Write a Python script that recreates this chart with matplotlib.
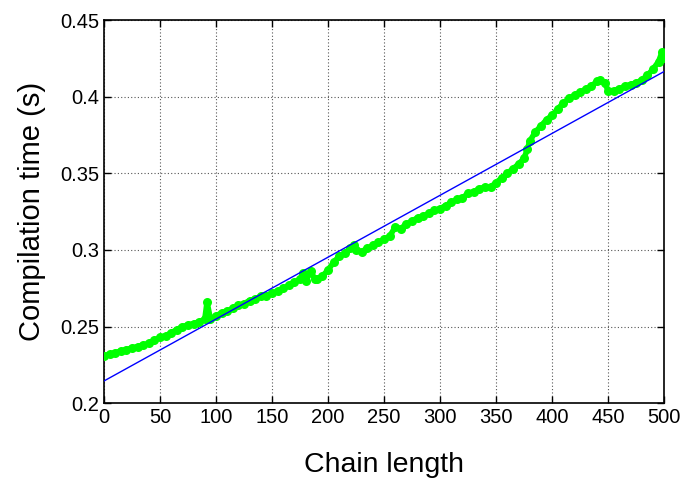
import matplotlib
matplotlib.use("Agg")
import matplotlib.pyplot as plt
import numpy as np

chain_len = [0, 5, 10, 15, 20, 25, 30, 35, 40, 45, 50, 55, 60, 65, 70, 75, 80, 85, 90, 92,
             95, 100, 105, 110, 115, 120, 125, 130, 135, 140, 145, 150, 155, 160, 165, 170,
             175, 178, 180, 185, 188, 190, 195, 200, 205, 210, 215, 220, 223, 225, 230, 235,
             240, 245, 250, 255, 260, 265, 270, 275, 280, 285, 290, 295, 300, 305, 310, 315,
             320, 325, 330, 335, 340, 345, 350, 355, 360, 365, 370, 375, 378, 380, 385, 390,
             395, 400, 405, 410, 415, 420, 425, 430, 435, 440, 443, 447, 450, 455, 460, 465,
             470, 475, 480, 485, 490, 495, 498, 500]
comp_time = [0.231, 0.232, 0.233, 0.234, 0.235, 0.236, 0.237, 0.238, 0.239, 0.241, 0.243,
             0.244, 0.246, 0.248, 0.250, 0.251, 0.252, 0.253, 0.255, 0.266,
             0.255, 0.257, 0.259, 0.260, 0.262, 0.264, 0.265, 0.267, 0.268, 0.270, 0.270,
             0.272, 0.273, 0.275, 0.277, 0.279,
             0.281, 0.285, 0.280, 0.286, 0.281, 0.281, 0.283, 0.287, 0.292, 0.296, 0.298,
             0.301, 0.303, 0.300, 0.299, 0.301,
             0.303, 0.305, 0.307, 0.309, 0.315, 0.314, 0.317, 0.319, 0.321, 0.322, 0.324,
             0.326, 0.327, 0.329, 0.331, 0.333,
             0.334, 0.337, 0.338, 0.340, 0.341, 0.341, 0.344, 0.347, 0.350, 0.353, 0.356,
             0.360, 0.366, 0.371, 0.377, 0.381,
             0.385, 0.388, 0.392, 0.396, 0.399, 0.401, 0.403, 0.405, 0.407, 0.410, 0.411,
             0.409, 0.404, 0.404, 0.405, 0.407,
             0.408, 0.409, 0.411, 0.414, 0.418, 0.423, 0.429, 0.425]

# linear fit line
fit_slope = 0.000404
fit_icept = 0.2145

plt.rcParams['font.family'] = ['Liberation Sans', 'DejaVu Sans']

fig = plt.figure(figsize=(6.84, 4.8), dpi=100)
ax = fig.add_axes([0.152, 0.160, 0.819, 0.798])

ax.plot(chain_len, comp_time, color='#00ff00', lw=4, marker='o', ms=6.5, mew=0, zorder=3)
xf = np.array([0, 500])
ax.plot(xf, fit_icept + fit_slope * xf, color='#0000ff', lw=1.0, zorder=4)

ax.set_xlim(0, 500)
ax.set_ylim(0.2, 0.45)
ax.set_xticks(np.arange(0, 501, 50))
ax.set_yticks([0.2, 0.25, 0.3, 0.35, 0.4, 0.45])
ax.set_yticklabels(['0.2', '0.25', '0.3', '0.35', '0.4', '0.45'])
ax.tick_params(direction='in', top=True, right=True, labelsize=14.5, length=5, width=1)
ax.grid(True, color='#555555', linestyle=(0, (1, 2)), linewidth=0.8)
for s in ax.spines.values():
    s.set_linewidth(1.2)

ax.set_xlabel('Chain length', fontsize=20.5, labelpad=18)
ax.set_ylabel('Compilation time (s)', fontsize=21, labelpad=10)

fig.savefig('out.png', dpi=100)
